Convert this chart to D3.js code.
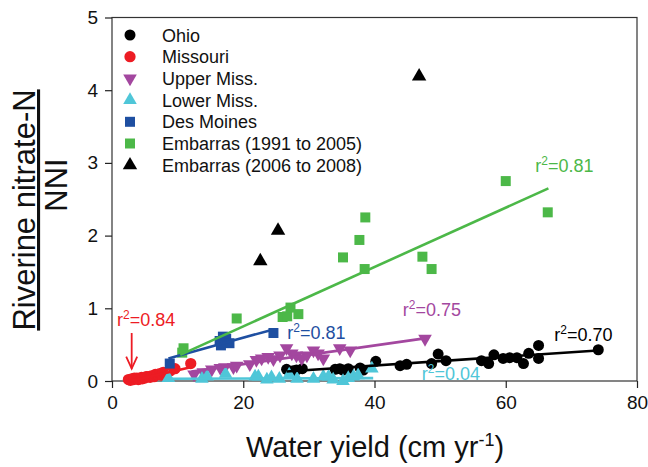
<!DOCTYPE html>
<html>
<head>
<meta charset="utf-8">
<script src="https://cdn.jsdelivr.net/npm/d3@7"></script>
<style>
  body { margin: 0; background: #fff; }
  svg { font-family: "Liberation Sans", Arial, sans-serif; }
</style>
</head>
<body>
<svg id="chart" width="648" height="467"></svg>
<script>
// series values: [water yield, ratio]
var ohio = [[26.6,0.16],[27.6,0.14],[28.1,0.15],[29.0,0.17],[34.0,0.16],[34.7,0.17],[35.2,0.15],[36.0,0.17],
  [37.8,0.18],[38.3,0.15],[40.2,0.27],[43.9,0.21],[44.9,0.23],[48.7,0.24],[49.7,0.37],[50.9,0.28],[56.3,0.28],
  [57.4,0.24],[58.2,0.36],[59.6,0.31],[60.6,0.32],[61.7,0.32],[62.7,0.24],[63.5,0.38],[65.0,0.49],[65.0,0.31],[74.1,0.43]];
var missouri = [[2.5,0.02],[2.8,0.01],[3.0,0.03],[3.3,0.02],[3.4,0.04],[3.8,0.04],[4.0,0.02],[4.2,0.03],[4.5,0.05],
  [4.6,0.03],[5.0,0.04],[5.2,0.06],[5.5,0.06],[5.8,0.05],[6.0,0.07],[6.4,0.06],[6.6,0.09],[6.9,0.09],[7.3,0.10],
  [7.6,0.08],[7.8,0.12],[8.3,0.11],[8.6,0.13],[8.9,0.14],[9.6,0.17],[12.0,0.24]];
var upperMiss = [[12.5,0.07],[13.9,0.10],[15.2,0.14],[16.5,0.16],[17.2,0.17],[18.5,0.17],[19.0,0.19],[21.0,0.21],
  [22.0,0.27],[22.8,0.29],[23.8,0.31],[24.6,0.28],[25.6,0.33],[26.6,0.43],[27.4,0.36],[28.1,0.33],[28.9,0.29],
  [29.7,0.33],[30.7,0.40],[31.4,0.36],[32.2,0.29],[34.7,0.43],[36.3,0.40],[47.7,0.56]];
var lowerMiss = [[8.6,0.06],[13.7,0.05],[14.5,0.08],[17.3,0.12],[21.8,0.08],[22.3,0.08],[23.6,0.04],[24.3,0.07],
  [25.5,0.05],[27.0,0.11],[28.2,0.05],[30.7,0.05],[32.2,0.08],[33.0,0.08],[33.7,0.04],[35.2,0.02],[36.0,0.06],
  [36.8,0.08],[37.5,0.10],[39.6,0.19]];
var desMoines = [[8.8,0.24],[16.4,0.55],[16.9,0.61],[17.4,0.58],[17.9,0.52],[16.6,0.49],[24.6,0.66]];
var embarras1 = [[10.9,0.45],[10.7,0.39],[19.0,0.86],[26.0,0.88],[26.7,0.89],[27.2,1.01],[28.4,0.92],[35.2,1.70],
  [37.7,1.94],[38.6,2.25],[38.5,1.54],[47.3,1.71],[48.7,1.54],[60.0,2.75],[66.4,2.32]];
var embarras2 = [[22.6,1.67],[25.3,2.09],[46.8,4.21]];

// regression line end points
var ohioFit = [[26.6,0.13],[74.0,0.42]];
var missouriFit = [[2.8,0.0],[12.0,0.19]];
var upperFit = [[12.1,0.13],[47.9,0.59]];
var lowerFit = [[8.6,0.03],[39.8,0.04]];
var desMoinesFit = [[8.6,0.31],[24.6,0.71]];
var embarrasFit = [[10.4,0.36],[66.5,2.65]];

var seriesNames = ["Ohio", "Missouri", "Upper Miss.", "Lower Miss.", "Des Moines", "Embarras (1991 to 2005)", "Embarras (2006 to 2008)"];
var r2Values = ["0.70", "0.84", "0.75", "0.04", "0.81", "0.81"];
var xTicks = [0, 20, 40, 60, 80];
var yTicks = [0, 1, 2, 3, 4, 5];

var svg = d3.select("#chart");
var x = d3.scaleLinear().domain([0, 80]).range([112, 637]);
var y = d3.scaleLinear().domain([0, 5]).range([381, 17.5]);

var series = [
  { name: seriesNames[0], data: ohio, fit: ohioFit, color: "#000000", shape: d3.symbolCircle, size: 95, rot: 0 },
  { name: seriesNames[1], data: missouri, fit: missouriFit, color: "#ed1c24", shape: d3.symbolCircle, size: 100, rot: 0 },
  { name: seriesNames[2], data: upperMiss, fit: upperFit, color: "#a3479f", shape: d3.symbolTriangle, size: 80, rot: 180 },
  { name: seriesNames[3], data: lowerMiss, fit: lowerFit, color: "#4fc6d8", shape: d3.symbolTriangle, size: 80, rot: 0 },
  { name: seriesNames[4], data: desMoines, fit: desMoinesFit, color: "#1e4fa1", shape: d3.symbolSquare, size: 100, rot: 0 },
  { name: seriesNames[5], data: embarras1, fit: embarrasFit, color: "#4cb848", shape: d3.symbolSquare, size: 100, rot: 0 },
  { name: seriesNames[6], data: embarras2, fit: null, color: "#000000", shape: d3.symbolTriangle, size: 90, rot: 0 }
];

// frame
svg.append("rect")
  .attr("x", x(0)).attr("y", y(5))
  .attr("width", x(80) - x(0)).attr("height", y(0) - y(5))
  .attr("fill", "none").attr("stroke", "#333").attr("stroke-width", 1.2);

var xAxis = svg.append("g").attr("transform", "translate(0," + y(0) + ")")
  .call(d3.axisBottom(x).tickValues(xTicks).tickFormat(d3.format("d")).tickSize(7).tickPadding(8));
var yAxis = svg.append("g").attr("transform", "translate(" + x(0) + ",0)")
  .call(d3.axisLeft(y).tickValues(yTicks).tickFormat(d3.format("d")).tickSize(7).tickPadding(7));
[xAxis, yAxis].forEach(function (g) {
  g.select(".domain").remove();
  g.selectAll("line").attr("stroke", "#222").attr("stroke-width", 1.2);
  g.selectAll("text").attr("fill", "#111").style("font-size", "19px").style("font-family", "Liberation Sans, Arial, sans-serif");
});

var line = d3.line().x(function (d) { return x(d[0]); }).y(function (d) { return y(d[1]); });

// points
series.forEach(function (s) {
  var sym = d3.symbol().type(s.shape).size(s.size);
  svg.append("g").selectAll("path").data(s.data).enter().append("path")
    .attr("d", sym)
    .attr("fill", s.color)
    .attr("transform", function (d) {
      var dy = s.shape === d3.symbolTriangle ? (s.rot ? -1.5 : 1.5) : 0;
      return "translate(" + x(d[0]) + "," + (y(d[1]) + dy) + ") rotate(" + s.rot + ")";
    });
});

// fit lines
series.forEach(function (s) {
  if (!s.fit) return;
  svg.append("path").attr("d", line(s.fit))
    .attr("fill", "none").attr("stroke", s.color).attr("stroke-width", 2.6);
});

// r2 labels
var r2Pos = [[67.4, 0.55], [0.76, 0.757], [44.3, 0.89], [47.2, 0.014], [26.7, 0.58], [64.5, 2.87]];
var r2Series = [0, 1, 2, 3, 4, 5];
r2Series.forEach(function (si, i) {
  var t = svg.append("text")
    .attr("x", x(r2Pos[i][0])).attr("y", y(r2Pos[i][1]))
    .attr("fill", series[si].color).style("font-size", "18px");
  t.append("tspan").text("r");
  t.append("tspan").attr("dy", -7).style("font-size", "12px").text("2");
  t.append("tspan").attr("dy", 7).text("=" + r2Values[i]);
});

// red arrow to the Missouri cluster
svg.append("line")
  .attr("x1", x(3.0)).attr("x2", x(3.0)).attr("y1", y(0.66)).attr("y2", y(0.17))
  .attr("stroke", "#ed1c24").attr("stroke-width", 1.8);
svg.append("path")
  .attr("d", "M" + (x(3.0) - 5.5) + "," + (y(0.17) - 12) + "L" + x(3.0) + "," + y(0.17) + "L" + (x(3.0) + 5.5) + "," + (y(0.17) - 12))
  .attr("fill", "none").attr("stroke", "#ed1c24").attr("stroke-width", 1.8);

// legend
var legend = svg.append("g");
series.forEach(function (s, i) {
  var ly = 35 + i * 21.7;
  var sym = d3.symbol().type(s.shape).size(s.size);
  legend.append("path").attr("d", sym).attr("fill", s.color)
    .attr("transform", "translate(130," + ly + ") rotate(" + s.rot + ")");
  legend.append("text").attr("x", 162).attr("y", ly + 6.5)
    .attr("fill", "#111").style("font-size", "18px").text(s.name);
});

// axis titles
var xt = svg.append("text").attr("x", 375).attr("y", 457)
  .attr("text-anchor", "middle").attr("fill", "#111").style("font-size", "29px");
xt.append("tspan").text("Water yield (cm yr");
xt.append("tspan").attr("dy", -11).style("font-size", "18px").text("-1");
xt.append("tspan").attr("dy", 11).text(")");

svg.append("text")
  .attr("transform", "translate(35,210) rotate(-90)")
  .attr("text-anchor", "middle").attr("fill", "#111").style("font-size", "31px")
  .attr("text-decoration", "underline")
  .text("Riverine nitrate-N");
svg.append("text")
  .attr("transform", "translate(67,185) rotate(-90)")
  .attr("text-anchor", "middle").attr("fill", "#111").style("font-size", "31px")
  .text("NNI");
</script>
</body>
</html>
